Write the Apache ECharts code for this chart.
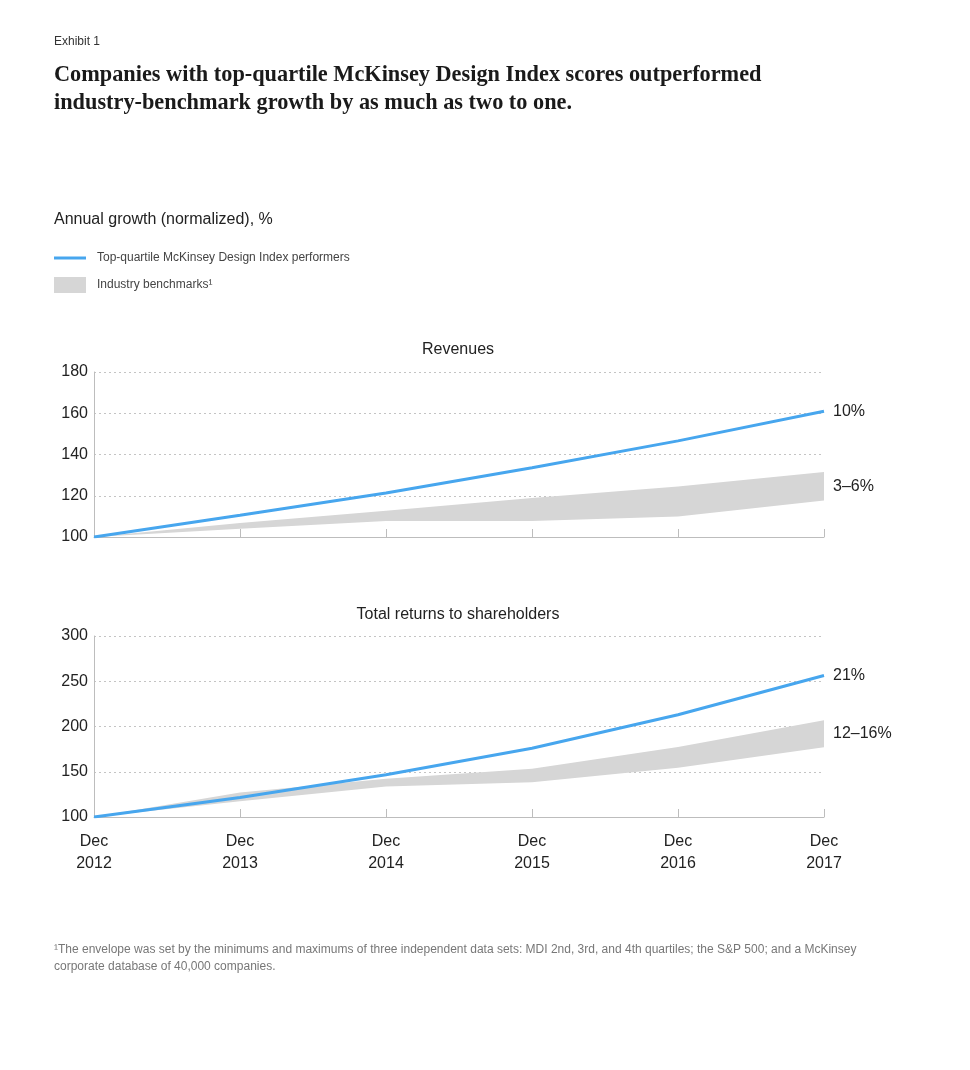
<!DOCTYPE html>
<html><head><meta charset="utf-8">
<script src="https://cdn.jsdelivr.net/npm/echarts@6/dist/echarts.min.js"></script>
<style>html,body{margin:0;padding:0;background:#fff}#c{width:970px;height:1070px}</style>
</head><body><div id="c"></div>
<script>
const years = ['2012','2013','2014','2015','2016','2017'];
const revTop  = [100, 110.5, 121.3, 133.6, 146.6, 161];
const revLow  = [100, 104.0, 107.8, 107.8, 110.0, 117.7];
const revHigh = [100, 106.8, 112.7, 118.9, 124.5, 131.5];
const tsrTop  = [100, 121.5, 146.7, 176.0, 213.0, 256.3];
const tsrLow  = [100, 117.4, 133.7, 138.5, 154.4, 177.0];
const tsrHigh = [100, 127.0, 142.2, 153.3, 177.4, 207.0];
const revLabels = ['10%', '3–6%'];
const tsrLabels = ['21%', '12–16%'];

const BLUE = '#47a6ee', BAND = '#d6d6d6', AX = '#bdbdbd', TXT = '#222';
const FONT = '"Liberation Sans", Arial, sans-serif';

function xAxis(gi, showLabels){
  return {type:'category', gridIndex:gi, data:years, boundaryGap:false,
    axisLine:{show:true, lineStyle:{color:AX, width:1}},
    axisTick:{show:true, inside:true, length:8, alignWithLabel:true, lineStyle:{color:AX}},
    axisLabel:{show:showLabels, formatter:'Dec\n{value}', fontSize:16, lineHeight:22, color:TXT, fontFamily:FONT, margin:14},
    splitLine:{show:false}};
}
function yAxis(gi, min, max, interval){
  return {type:'value', gridIndex:gi, min:min, max:max, interval:interval,
    axisLine:{show:true, lineStyle:{color:AX}},
    axisTick:{show:false},
    axisLabel:{fontSize:16, color:TXT, fontFamily:FONT, margin:6},
    splitLine:{show:true, lineStyle:{color:'#c4c4c4', type:[2,3], width:1}}};
}
function bandSeries(idx, low, high, stack){
  return [
    {type:'line', xAxisIndex:idx, yAxisIndex:idx, stack:stack, data:low, symbol:'none',
      lineStyle:{opacity:0}, silent:true, z:1},
    {type:'line', xAxisIndex:idx, yAxisIndex:idx, stack:stack, data:high.map((v,i)=>v-low[i]),
      symbol:'none', lineStyle:{opacity:0}, areaStyle:{color:BAND, opacity:1}, silent:true, z:1}
  ];
}
function topSeries(idx, data, lbl){
  return {type:'line', xAxisIndex:idx, yAxisIndex:idx, data:data, symbol:'none',
    lineStyle:{color:BLUE, width:3}, z:3,
    endLabel:{show:true, formatter:lbl, fontSize:16, color:TXT, fontFamily:FONT, distance:9}};
}
function bandLabel(idx, low, high, lbl){
  const n = low.length-1;
  return {type:'scatter', xAxisIndex:idx, yAxisIndex:idx, symbolSize:0,
    data:[[n, (low[n]+high[n])/2]], silent:true, itemStyle:{opacity:1},
    label:{show:true, position:'right', distance:9, formatter:lbl, fontSize:16, color:TXT, opacity:1, fontFamily:FONT}};
}
const tt = (text, left, top, style, extra) => Object.assign({text, left, top, padding:0, textStyle:Object.assign({fontWeight:'normal', fontFamily:FONT}, style)}, extra||{});

const chart = echarts.init(document.getElementById('c'));
chart.setOption({
  animation:false,
  textStyle:{fontFamily:FONT},
  title:[
    tt('Exhibit 1', 54, 36, {fontSize:12, color:'#333'}),
    tt('Companies with top-quartile McKinsey Design Index scores outperformed\nindustry-benchmark growth by as much as two to one.', 54, 61,
      {fontSize:22.3, fontWeight:'bold', color:'#1a1a1a', lineHeight:28, fontFamily:'"Liberation Serif", "DejaVu Serif", serif'}),
    tt('Annual growth (normalized), %', 54, 212, {fontSize:16, color:TXT}),
    tt('Revenues', 458, 342, {fontSize:16, color:TXT}, {textAlign:'center'}),
    tt('Total returns to shareholders', 458, 607, {fontSize:16, color:TXT}, {textAlign:'center'}),
    tt('¹The envelope was set by the minimums and maximums of three independent data sets: MDI 2nd, 3rd, and 4th quartiles; the S&P 500; and a McKinsey\ncorporate database of 40,000 companies.', 54, 941,
      {fontSize:12, color:'#777', lineHeight:17})
  ],
  graphic:[
    {type:'line', shape:{x1:54, y1:258, x2:86, y2:258}, style:{stroke:BLUE, lineWidth:3}},
    {type:'text', left:97, top:252, style:{text:'Top-quartile McKinsey Design Index performers', fontSize:12, fill:'#444', fontFamily:FONT}},
    {type:'rect', shape:{x:54, y:277, width:32, height:16}, style:{fill:BAND}},
    {type:'text', left:97, top:279, style:{text:'Industry benchmarks¹', fontSize:12, fill:'#444', fontFamily:FONT}}
  ],
  grid:[
    {left:94, top:372, width:730, height:165},
    {left:94, top:636, width:730, height:181}
  ],
  xAxis:[xAxis(0,false), xAxis(1,true)],
  yAxis:[yAxis(0,100,180,20), yAxis(1,100,300,50)],
  series:[
    ...bandSeries(0, revLow, revHigh, 'r'),
    topSeries(0, revTop, revLabels[0]),
    bandLabel(0, revLow, revHigh, revLabels[1]),
    ...bandSeries(1, tsrLow, tsrHigh, 't'),
    topSeries(1, tsrTop, tsrLabels[0]),
    bandLabel(1, tsrLow, tsrHigh, tsrLabels[1])
  ]
});
</script></body></html>
